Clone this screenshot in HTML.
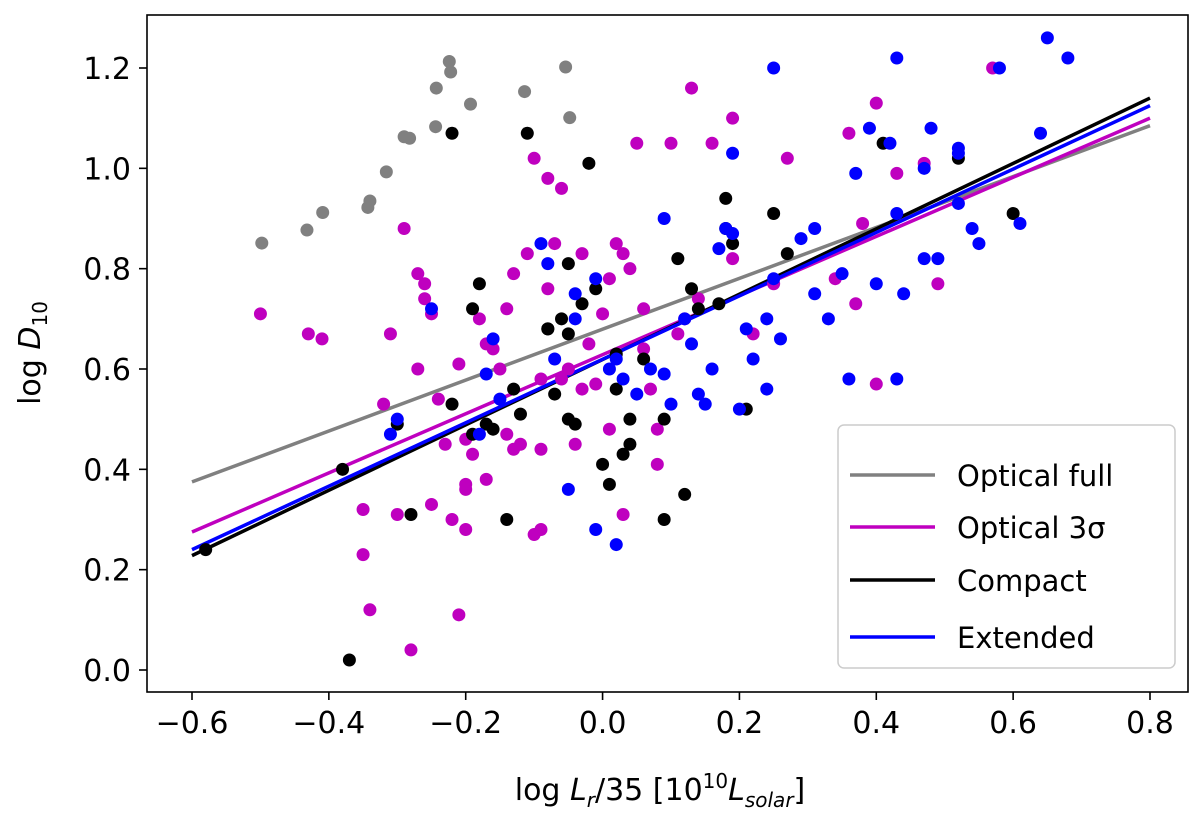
<!DOCTYPE html>
<html><head><meta charset="utf-8"><style>
body{margin:0;background:#fff;}
svg text{font-family:"DejaVu Sans","Liberation Sans",sans-serif;fill:#000;}
</style></head><body>
<svg id="chart" width="1200" height="820">
<rect x="147" y="15" width="1041" height="677" fill="none" stroke="#000" stroke-width="1.6"/>
<g id="ticks"></g><g id="lines"></g><g id="pts"></g>
<text x="660" y="800" font-size="30" text-anchor="middle">log <tspan font-style="italic">L</tspan><tspan font-style="italic" font-size="20" dy="7">r</tspan><tspan dy="-7">/35 [10</tspan><tspan font-size="20" dy="-12">10</tspan><tspan font-style="italic" dy="12">L</tspan><tspan font-style="italic" font-size="20" dy="7">solar</tspan><tspan dy="-7">]</tspan></text>
<text transform="translate(40,353) rotate(-90)" font-size="30" text-anchor="middle">log <tspan font-style="italic">D</tspan><tspan font-size="20" dy="7">10</tspan></text>
<g>
<rect x="838" y="425" width="337" height="243" rx="6" fill="#fff" fill-opacity="0.8" stroke="#ccc" stroke-width="1.5"/>
<line x1="850" y1="475" x2="935" y2="475" stroke="#808080" stroke-width="3.5"/><text x="957" y="486" font-size="29">Optical full</text>
<line x1="850" y1="527" x2="935" y2="527" stroke="#bf00bf" stroke-width="3.5"/><text x="957" y="538" font-size="29">Optical 3σ</text>
<line x1="850" y1="580" x2="935" y2="580" stroke="#000" stroke-width="3.5"/><text x="957" y="591" font-size="29">Compact</text>
<line x1="850" y1="637" x2="935" y2="637" stroke="#0000ff" stroke-width="3.5"/><text x="957" y="648" font-size="29">Extended</text>
</g>
</svg>
<script>
const xTicks=[-0.6,-0.4,-0.2,0.0,0.2,0.4,0.6,0.8];
const yTicks=[0.0,0.2,0.4,0.6,0.8,1.0,1.2];
const grayPts=[[-0.498,0.851],[-0.432,0.877],[-0.409,0.912],[-0.343,0.922],[-0.340,0.935],[-0.316,0.993],[-0.290,1.063],[-0.282,1.060],[-0.244,1.083],[-0.243,1.160],[-0.224,1.213],[-0.222,1.192],[-0.193,1.128],[-0.114,1.153],[-0.054,1.202],[-0.048,1.101]];
const magentaPts=[[-0.50,0.71],[-0.43,0.67],[-0.41,0.66],[-0.35,0.23],[-0.34,0.12],[-0.35,0.32],[-0.32,0.53],[-0.31,0.67],[-0.29,0.88],[-0.28,0.04],[-0.30,0.31],[-0.27,0.60],[-0.27,0.79],[-0.26,0.77],[-0.26,0.74],[-0.25,0.71],[-0.25,0.33],[-0.24,0.54],[-0.23,0.45],[-0.22,0.30],[-0.21,0.11],[-0.21,0.61],[-0.20,0.37],[-0.20,0.36],[-0.20,0.28],[-0.20,0.46],[-0.19,0.43],[-0.18,0.70],[-0.17,0.65],[-0.17,0.38],[-0.16,0.64],[-0.15,0.60],[-0.14,0.47],[-0.13,0.44],[-0.13,0.79],[-0.12,0.45],[-0.11,0.83],[-0.10,1.02],[-0.10,0.27],[-0.09,0.28],[-0.09,0.58],[-0.09,0.44],[-0.08,0.76],[-0.08,0.98],[-0.07,0.85],[-0.06,0.58],[-0.05,0.60],[-0.04,0.45],[-0.03,0.56],[-0.02,0.65],[-0.01,0.57],[0.00,0.71],[0.01,0.48],[0.01,0.78],[0.02,0.85],[0.03,0.83],[0.03,0.31],[0.04,0.80],[0.05,1.05],[0.06,0.72],[0.07,0.56],[0.08,0.48],[0.08,0.41],[0.10,1.05],[0.11,0.67],[0.13,1.16],[0.14,0.74],[0.16,1.05],[0.19,1.10],[0.19,0.82],[0.22,0.67],[0.25,0.77],[0.27,1.02],[0.34,0.78],[0.36,1.07],[0.37,0.73],[0.38,0.89],[0.40,1.13],[0.40,0.57],[0.43,0.99],[0.47,1.01],[0.49,0.77],[0.57,1.20],[-0.06,0.96],[-0.03,0.83],[0.12,0.70],[-0.14,0.72],[0.06,0.64]];
const blackPts=[[-0.58,0.24],[-0.37,0.02],[-0.38,0.40],[-0.30,0.49],[-0.28,0.31],[-0.22,1.07],[-0.22,0.53],[-0.19,0.47],[-0.19,0.72],[-0.18,0.77],[-0.17,0.49],[-0.16,0.48],[-0.14,0.30],[-0.13,0.56],[-0.12,0.51],[-0.11,1.07],[-0.08,0.68],[-0.07,0.55],[-0.06,0.70],[-0.05,0.67],[-0.05,0.50],[-0.05,0.81],[-0.04,0.49],[-0.03,0.73],[-0.02,1.01],[-0.01,0.76],[0.00,0.41],[0.01,0.37],[0.02,0.56],[0.03,0.43],[0.04,0.50],[0.04,0.45],[0.06,0.62],[0.09,0.30],[0.09,0.50],[0.11,0.82],[0.12,0.35],[0.13,0.76],[0.14,0.72],[0.17,0.73],[0.18,0.94],[0.18,0.88],[0.19,0.85],[0.21,0.52],[0.25,0.91],[0.27,0.83],[0.41,1.05],[0.52,1.02],[0.60,0.91],[0.02,0.63],[-0.08,0.68]];
const bluePts=[[-0.30,0.50],[-0.31,0.47],[-0.25,0.72],[-0.18,0.47],[-0.17,0.59],[-0.16,0.66],[-0.15,0.54],[-0.09,0.85],[-0.08,0.81],[-0.07,0.62],[-0.05,0.36],[-0.04,0.75],[-0.01,0.78],[-0.01,0.28],[0.01,0.60],[0.02,0.25],[0.02,0.62],[0.03,0.58],[0.05,0.55],[0.07,0.60],[0.09,0.90],[0.09,0.59],[0.10,0.53],[0.12,0.70],[0.13,0.65],[0.14,0.55],[0.15,0.53],[0.16,0.60],[0.17,0.84],[0.18,0.88],[0.19,1.03],[0.19,0.87],[0.20,0.52],[0.21,0.68],[0.22,0.62],[0.24,0.56],[0.24,0.70],[0.25,0.78],[0.25,1.20],[0.26,0.66],[0.29,0.86],[0.31,0.88],[0.31,0.75],[0.33,0.70],[0.35,0.79],[0.36,0.58],[0.37,0.99],[0.39,1.08],[0.40,0.77],[0.42,1.05],[0.43,0.91],[0.43,1.22],[0.44,0.75],[0.43,0.58],[0.47,1.00],[0.47,0.82],[0.48,1.08],[0.49,0.82],[0.52,0.93],[0.52,1.04],[0.54,0.88],[0.55,0.85],[0.58,1.20],[0.61,0.89],[0.64,1.07],[0.65,1.26],[0.68,1.22],[0.52,1.03],[-0.04,0.70]];
const fitX=[-0.6,0.8];
const fitGray=[0.375,1.085];
const fitMagenta=[0.275,1.100];
const fitBlack=[0.228,1.140];
const fitBlue=[0.240,1.125];
const NS="http://www.w3.org/2000/svg";
const X=v=>192+(v+0.6)*(958/1.4);
const Y=v=>670-v*(602/1.2);
function mk(t,a,p){const e=document.createElementNS(NS,t);for(const k in a)e.setAttribute(k,a[k]);p.appendChild(e);return e;}
const tg=document.getElementById('ticks');
xTicks.forEach(v=>{
 const l=mk('line',{x1:X(v),x2:X(v),y1:692,y2:700,stroke:'#000','stroke-width':1.6},tg);
 
 
 const t=mk('text',{x:X(v),y:733,'font-size':30,'text-anchor':'middle'},tg);
 t.textContent=(v<0?'\u2212':'')+Math.abs(v).toFixed(1);
 
 
});
yTicks.forEach(v=>{
 const l=mk('line',{x1:139,x2:147,y1:Y(v),y2:Y(v),stroke:'#000','stroke-width':1.6},tg);
 
 
 const t=mk('text',{x:131,y:Y(v)+11,'font-size':30,'text-anchor':'end'},tg);
 t.textContent=v.toFixed(1);
 
 
});
const pg=document.getElementById('pts');
[[grayPts,'#808080','gray'],[magentaPts,'#bf00bf','magenta'],[blackPts,'#000','black'],[bluePts,'#0000ff','blue']].forEach(([arr,c,n])=>{
 arr.forEach(p=>{
  const e=mk('circle',{cx:X(p[0]),cy:Y(p[1]),r:6.5,fill:c},pg);
  
  
 });
});
const lg=document.getElementById('lines');
[[fitGray,'#808080','optical-full-fit'],[fitMagenta,'#bf00bf','optical-3sigma-fit'],[fitBlack,'#000','compact-fit'],[fitBlue,'#0000ff','extended-fit']].forEach(([f,c,n])=>{
 const e=mk('line',{x1:X(fitX[0]),y1:Y(f[0]),x2:X(fitX[1]),y2:Y(f[1]),stroke:c,'stroke-width':3.5},lg);
 
 
});
</script>
</body></html>
